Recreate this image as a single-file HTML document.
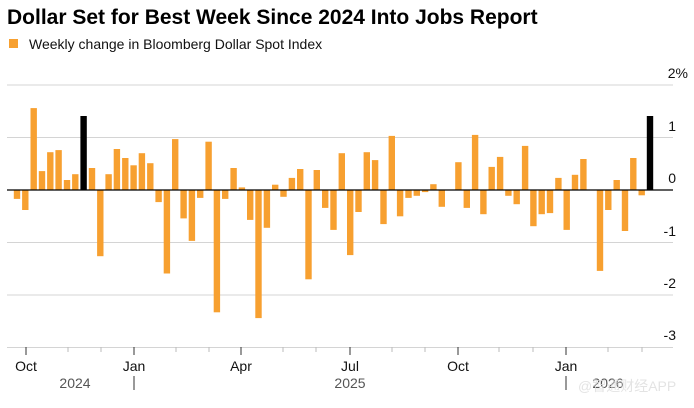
<!DOCTYPE html>
<html><head><meta charset="utf-8"><style>
html,body{margin:0;padding:0;background:#fff;width:694px;height:408px;overflow:hidden}
svg{display:block;font-family:"Liberation Sans","Noto Sans CJK SC",sans-serif}
</style></head><body>
<svg width="694" height="408" viewBox="0 0 694 408" xmlns="http://www.w3.org/2000/svg">
<text x="7" y="24" font-size="21" font-weight="bold" fill="#000">Dollar Set for Best Week Since 2024 Into Jobs Report</text>
<rect x="9" y="39" width="9" height="9" fill="#f7a030"/>
<text x="29" y="49" font-size="14" fill="#111">Weekly change in Bloomberg Dollar Spot Index</text>
<g stroke="#d4d4d4" stroke-width="1">
<line x1="7" x2="673" y1="85" y2="85"/>
<line x1="7" x2="673" y1="137.5" y2="137.5"/>
<line x1="7" x2="673" y1="242.5" y2="242.5"/>
<line x1="7" x2="673" y1="295" y2="295"/>
<line x1="7" x2="673" y1="347.5" y2="347.5"/>
</g>
<g fill="#f7a030">
<rect x="13.8" y="190" width="6.4" height="8.9"/>
<rect x="22.1" y="190" width="6.4" height="20"/>
<rect x="30.5" y="108.1" width="6.4" height="81.9"/>
<rect x="38.8" y="171.1" width="6.4" height="18.9"/>
<rect x="47.1" y="152.2" width="6.4" height="37.8"/>
<rect x="55.4" y="150.1" width="6.4" height="39.9"/>
<rect x="63.8" y="180" width="6.4" height="10"/>
<rect x="72.1" y="174.2" width="6.4" height="15.8"/>
<rect x="80.4" y="116" width="6.4" height="74" fill="#000"/>
<rect x="88.8" y="168" width="6.4" height="22"/>
<rect x="97.1" y="190" width="6.4" height="66.2"/>
<rect x="105.4" y="174.2" width="6.4" height="15.8"/>
<rect x="113.7" y="149" width="6.4" height="41"/>
<rect x="122.1" y="158" width="6.4" height="32"/>
<rect x="130.4" y="165.3" width="6.4" height="24.7"/>
<rect x="138.7" y="153.2" width="6.4" height="36.8"/>
<rect x="147.1" y="163.2" width="6.4" height="26.8"/>
<rect x="155.4" y="190" width="6.4" height="12.1"/>
<rect x="163.7" y="190" width="6.4" height="83.5"/>
<rect x="172" y="139.1" width="6.4" height="50.9"/>
<rect x="180.4" y="190" width="6.4" height="28.4"/>
<rect x="188.7" y="190" width="6.4" height="50.9"/>
<rect x="197" y="190" width="6.4" height="7.9"/>
<rect x="205.4" y="141.7" width="6.4" height="48.3"/>
<rect x="213.7" y="190" width="6.4" height="122.3"/>
<rect x="222" y="190" width="6.4" height="8.9"/>
<rect x="230.4" y="168" width="6.4" height="22"/>
<rect x="238.7" y="187.4" width="6.4" height="2.6"/>
<rect x="247" y="190" width="6.4" height="29.9"/>
<rect x="255.3" y="190" width="6.4" height="128.1"/>
<rect x="263.7" y="190" width="6.4" height="37.8"/>
<rect x="272" y="184.7" width="6.4" height="5.3"/>
<rect x="280.3" y="190" width="6.4" height="6.8"/>
<rect x="288.7" y="177.9" width="6.4" height="12.1"/>
<rect x="297" y="169" width="6.4" height="21"/>
<rect x="305.3" y="190" width="6.4" height="89.3"/>
<rect x="313.6" y="170" width="6.4" height="20"/>
<rect x="322" y="190" width="6.4" height="17.9"/>
<rect x="330.3" y="190" width="6.4" height="39.9"/>
<rect x="338.6" y="153.2" width="6.4" height="36.8"/>
<rect x="347" y="190" width="6.4" height="65.1"/>
<rect x="355.3" y="190" width="6.4" height="22"/>
<rect x="363.6" y="152.2" width="6.4" height="37.8"/>
<rect x="371.9" y="160.1" width="6.4" height="29.9"/>
<rect x="380.3" y="190" width="6.4" height="34.1"/>
<rect x="388.6" y="135.9" width="6.4" height="54.1"/>
<rect x="396.9" y="190" width="6.4" height="26.3"/>
<rect x="405.3" y="190" width="6.4" height="7.9"/>
<rect x="413.6" y="190" width="6.4" height="5.8"/>
<rect x="421.9" y="190" width="6.4" height="2.1"/>
<rect x="430.2" y="184.2" width="6.4" height="5.8"/>
<rect x="438.6" y="190" width="6.4" height="16.8"/>
<rect x="455.2" y="162.2" width="6.4" height="27.8"/>
<rect x="463.6" y="190" width="6.4" height="17.9"/>
<rect x="471.9" y="134.9" width="6.4" height="55.1"/>
<rect x="480.2" y="190" width="6.4" height="24.2"/>
<rect x="488.5" y="166.9" width="6.4" height="23.1"/>
<rect x="496.9" y="156.9" width="6.4" height="33.1"/>
<rect x="505.2" y="190" width="6.4" height="5.8"/>
<rect x="513.5" y="190" width="6.4" height="14.2"/>
<rect x="521.9" y="145.9" width="6.4" height="44.1"/>
<rect x="530.2" y="190" width="6.4" height="36.2"/>
<rect x="538.5" y="190" width="6.4" height="24.2"/>
<rect x="546.8" y="190" width="6.4" height="23.1"/>
<rect x="555.2" y="177.9" width="6.4" height="12.1"/>
<rect x="563.5" y="190" width="6.4" height="39.9"/>
<rect x="571.8" y="174.8" width="6.4" height="15.2"/>
<rect x="580.2" y="159" width="6.4" height="31"/>
<rect x="596.8" y="190" width="6.4" height="80.9"/>
<rect x="605.1" y="190" width="6.4" height="20"/>
<rect x="613.5" y="180" width="6.4" height="10"/>
<rect x="621.8" y="190" width="6.4" height="41"/>
<rect x="630.1" y="158" width="6.4" height="32"/>
<rect x="638.5" y="190" width="6.4" height="5.3"/>
<rect x="646.8" y="116" width="6.4" height="74" fill="#000"/>
</g>
<line x1="7" x2="673" y1="190" y2="190" stroke="#000" stroke-width="1.2"/>
<g font-size="14" fill="#111" text-anchor="end">
<text x="688" y="78">2%</text>
<text x="676" y="131">1</text>
<text x="676" y="183">0</text>
<text x="676" y="236">-1</text>
<text x="676" y="288">-2</text>
<text x="676" y="340">-3</text>
</g>
<g stroke="#333" stroke-width="1">
<line x1="26" x2="26" y1="347" y2="355"/><line x1="134" x2="134" y1="347" y2="355"/>
<line x1="241" x2="241" y1="347" y2="355"/><line x1="350" x2="350" y1="347" y2="355"/>
<line x1="458" x2="458" y1="347" y2="355"/><line x1="566" x2="566" y1="347" y2="355"/>
<line x1="134" x2="134" y1="376" y2="390"/><line x1="566" x2="566" y1="376" y2="390"/>
</g>
<g stroke="#bbb" stroke-width="1">
<line x1="68" x2="68" y1="347" y2="352"/><line x1="101" x2="101" y1="347" y2="352"/>
<line x1="176" x2="176" y1="347" y2="352"/><line x1="209" x2="209" y1="347" y2="352"/>
<line x1="283" x2="283" y1="347" y2="352"/><line x1="316" x2="316" y1="347" y2="352"/>
<line x1="392" x2="392" y1="347" y2="352"/><line x1="425" x2="425" y1="347" y2="352"/>
<line x1="499" x2="499" y1="347" y2="352"/><line x1="533" x2="533" y1="347" y2="352"/>
<line x1="608" x2="608" y1="347" y2="352"/><line x1="642" x2="642" y1="347" y2="352"/>
</g>
<g font-size="14" fill="#111" text-anchor="middle">
<text x="26" y="371">Oct</text><text x="134" y="371">Jan</text><text x="241" y="371">Apr</text>
<text x="350" y="371">Jul</text><text x="458" y="371">Oct</text><text x="566" y="371">Jan</text>
</g>
<g font-size="14" fill="#555" text-anchor="middle">
<text x="75" y="388">2024</text><text x="350" y="388">2025</text><text x="608" y="388">2026</text>
</g>
<text x="578" y="391" font-size="14" fill="#ddd" opacity="0.8">@智通财经APP</text>
</svg>
</body></html>
